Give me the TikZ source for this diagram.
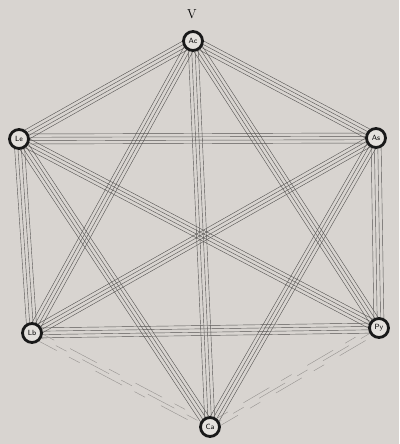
\documentclass[tikz,border=0pt]{standalone}
\usetikzlibrary{calc}
\definecolor{bg}{RGB}{216,212,208}
\definecolor{ln}{RGB}{88,86,84}
\definecolor{nodefill}{RGB}{228,225,221}
\tikzset{
  vertex/.style={circle,draw=black!90,line width=2.8pt,fill=nodefill,minimum size=19pt,inner sep=0pt,font=\sffamily\fontsize{7.5}{8}\selectfont},
  bandline/.style={draw=ln,line width=0.42pt},
  faintline/.style={draw=ln!50!bg,line width=0.42pt,dash pattern=on 30pt off 14pt on 12pt off 18pt}
}
\newcommand\band[2]{%
  \foreach \d in {-5,-1.7,1.7,5}{%
    \draw[bandline] ($(#1)!\d pt!90:(#2)$) -- ($(#2)!\d pt!-90:(#1)$);}}
\newcommand\faintband[2]{%
  \foreach \d/\ph in {-4/0,0/17,4/33}{%
    \draw[faintline,dash phase=\ph pt] ($(#1)!\d pt!90:(#2)$) -- ($(#2)!\d pt!-90:(#1)$);}}
\begin{document}
\begin{tikzpicture}[x=1pt,y=-1pt]
\fill[bg] (0,0) rectangle (399,444);
\useasboundingbox (0,0) rectangle (399,444);
\coordinate (cAc) at (193,41);
\coordinate (cLe) at (19,139);
\coordinate (cAs) at (376,138);
\coordinate (cLb) at (32,333);
\coordinate (cPy) at (379,328);
\coordinate (cCa) at (210,427);
\band{cAc}{cLe}
\band{cAc}{cAs}
\band{cAc}{cLb}
\band{cAc}{cPy}
\band{cAc}{cCa}
\band{cLe}{cAs}
\band{cLe}{cLb}
\band{cLe}{cPy}
\band{cLe}{cCa}
\band{cAs}{cLb}
\band{cAs}{cPy}
\band{cAs}{cCa}
\band{cLb}{cPy}
\faintband{cLb}{cCa}
\faintband{cCa}{cPy}
\node[vertex] (Ac) at (cAc) {Ac};
\node[vertex] (Le) at (cLe) {Le};
\node[vertex] (As) at (cAs) {As};
\node[vertex] (Lb) at (cLb) {Lb};
\node[vertex] (Py) at (cPy) {Py};
\node[vertex] (Ca) at (cCa) {Ca};
\node[font=\fontsize{13}{14}\selectfont] (V) at (192,14) {V};
\end{tikzpicture}
\end{document}
